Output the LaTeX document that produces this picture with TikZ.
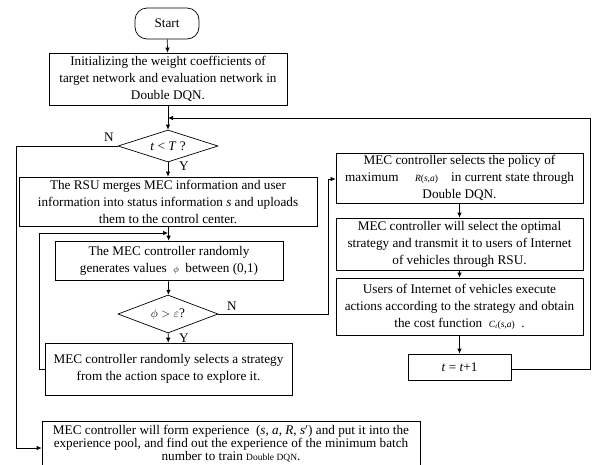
\documentclass[tikz,border=0pt]{standalone}
\usepackage{fontspec}
\setmainfont{Liberation Serif}
\usetikzlibrary{shapes.geometric,arrows.meta}
\tikzset{
  box/.style={draw, line width=0.7pt, align=center, inner sep=0pt, font=\fontsize{13.2}{17}\selectfont},
  dia/.style={draw, diamond, line width=0.7pt, aspect=3, inner sep=0pt, font=\fontsize{13.2}{16}\selectfont},
  lbl/.style={font=\fontsize{13.2}{16}\selectfont, inner sep=0pt},
  arr/.style={line width=0.7pt, -{Latex[length=5pt,width=4.5pt]}},
}
\begin{document}
\begin{tikzpicture}[x=1pt,y=-1pt]
\useasboundingbox (0,0) rectangle (594,464);
\clip (0,0) rectangle (594,464);
% left column
\node[box, rounded corners=12pt, minimum width=64pt, minimum height=31pt] (start) at (167,23.5) {Start};
\node[box, minimum width=238pt, minimum height=52pt] (init) at (168,79) {Initializing the weight coefficients of\\target network and evaluation network in\\Double DQN.};
\node[dia, minimum width=100pt, minimum height=32pt] (tT) at (168,146) {\textit{t} < \textit{T} ?};
\node[box, minimum width=298pt, minimum height=49pt] (rsu) at (168,201.5) {The RSU merges MEC information and user\\information into status information \textit{s} and uploads\\them to the control center.};
\node[box, minimum width=228pt, minimum height=39pt] (rand) at (169,260.5) {The MEC controller randomly\\generates values ~{\small$\phi$}~ between (0,1)};
\node[dia, minimum width=100pt, minimum height=38pt] (phi) at (168,314) {$\phi>\varepsilon$?};
\node[box, minimum width=247pt, minimum height=52pt] (expl) at (168.5,369) {MEC controller randomly selects a strategy\\from the action space to explore it.};
\node[box, minimum width=378pt, minimum height=45pt, font=\fontsize{13.2}{13}\selectfont] (pool) at (231,444) {MEC controller will form experience ~(\textit{s}, \textit{a}, \textit{R}, \textit{s}$'$) and put it into the\\experience pool, and find out the experience of the minimum batch\\number to train {\fontsize{9.5}{10}\selectfont Double DQN}.};
% right column
\node[box, minimum width=247pt, minimum height=50pt] (sel) at (459.5,178) {MEC controller selects the policy of\\maximum \quad{\fontsize{9.5}{10}\selectfont\textit{R}(\textit{s},\textit{a})}\quad in current state through\\Double DQN.};
\node[box, minimum width=247pt, minimum height=52pt] (opt) at (459.5,244) {MEC controller will select the optimal\\strategy and transmit it to users of Internet\\of vehicles through RSU.};
\node[box, minimum width=247pt, minimum height=57pt] (exe) at (459.5,306.5) {Users of Internet of vehicles execute\\actions according to the strategy and obtain\\the cost function ~{\fontsize{9.5}{10}\selectfont\textit{C\textsubscript{t}}(\textit{s},\textit{a})}~ .};
\node[box, minimum width=103pt, minimum height=26pt] (inc) at (459.5,367) {\textit{t} = \textit{t}+1};
% labels
\node[lbl] (nT) at (109,137) {N};
\node[lbl] (yT) at (184,166) {Y};
\node[lbl] (nP) at (232,306) {N};
\node[lbl] (yP) at (184,338) {Y};
% coordinates
\coordinate (j1) at (168,118);
\coordinate (j2) at (168,233);
\coordinate (r1) at (590,369);
\coordinate (r2) at (590,118);
\coordinate (l1) at (16,146);
\coordinate (l2) at (16,448);
\coordinate (e1) at (39,369);
\coordinate (e2) at (39,233);
\coordinate (p1) at (328,314);
\coordinate (p2) at (328,179);
% connectors
\draw[arr] (start) -- (init);
\draw[arr] (init) -- (tT);
\draw[arr] (tT) -- (rsu);
\draw[arr] (rsu) -- (rand);
\draw[arr] (rand) -- (phi);
\draw[arr] (phi) -- (expl);
\draw[arr] (sel) -- (opt);
\draw[arr] (opt) -- (exe);
\draw[arr] (exe) -- (inc);
\draw[arr] (inc.east |- r1) -- (r1) -- (r2) -- (j1);
\draw[arr] (tT.west) -- (l1) -- (l2) -- (pool.west |- l2);
\draw[arr] (expl.west |- e1) -- (e1) -- (e2) -- (j2);
\draw[arr] (phi.east) -- (p1) -- (p2) -- (sel.west |- p2);
\end{tikzpicture}
\end{document}
